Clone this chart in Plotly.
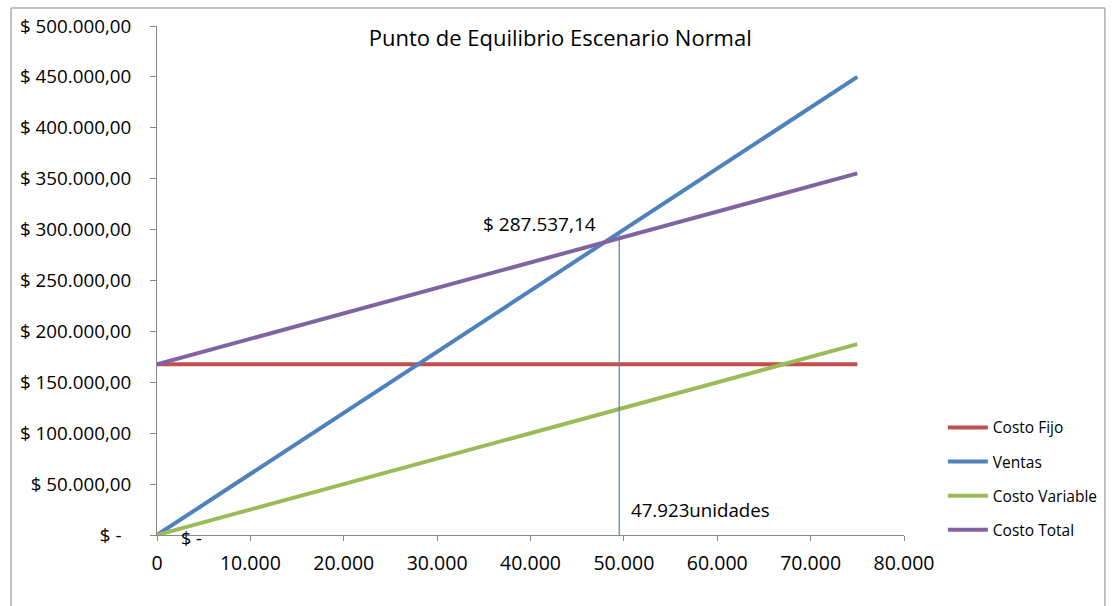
import plotly.graph_objects as go

units = [0, 75000]
costo_fijo = [167730, 167730]
ventas = [0, 450000]
costo_variable = [0, 187500]
costo_total = [167730, 355230]

be_x = [49500, 49500]
be_y = [0, 295000]
be_value_label = "$ 287.537,14"
be_units_label = "47.923unidades"

y_ticks = [0, 50000, 100000, 150000, 200000, 250000, 300000, 350000, 400000, 450000, 500000]
y_labels = ["$ -  ", "$ 50.000,00", "$ 100.000,00", "$ 150.000,00", "$ 200.000,00",
            "$ 250.000,00", "$ 300.000,00", "$ 350.000,00", "$ 400.000,00",
            "$ 450.000,00", "$ 500.000,00"]
x_ticks = [0, 10000, 20000, 30000, 40000, 50000, 60000, 70000, 80000]
x_labels = ["0", "10.000", "20.000", "30.000", "40.000", "50.000", "60.000", "70.000", "80.000"]

FONT = "Open Sans, sans-serif"

fig = go.Figure()
series = [
    ("Costo Fijo", costo_fijo, "#C0504D"),
    ("Ventas", ventas, "#4F81BD"),
    ("Costo Variable", costo_variable, "#9BBB59"),
    ("Costo Total", costo_total, "#8064A2"),
]
for i, (name, vals, col) in enumerate(series):
    fig.add_trace(go.Scatter(x=units, y=vals, mode="lines", name=name,
                             line=dict(color=col, width=4), legendgroup=f"g{i}"))

fig.add_trace(go.Scatter(x=be_x, y=be_y, mode="lines", showlegend=False,
                         line=dict(color="#4F81BD", width=1.2)))

fig.add_annotation(x=be_x[0], y=be_y[1], text=be_value_label, showarrow=False,
                   xanchor="right", yanchor="bottom", xshift=-21, yshift=-4,
                   font=dict(family=FONT, size=19, color="#000"))
fig.add_annotation(x=be_x[0], y=0, text=be_units_label, showarrow=False,
                   xanchor="left", yanchor="bottom", xshift=10, yshift=11,
                   font=dict(family=FONT, size=18.7, color="#000"))
fig.add_annotation(x=0, y=0, text="$ -", showarrow=False,
                   xanchor="left", yanchor="middle", xshift=22, yshift=-3,
                   font=dict(family=FONT, size=18, color="#000"))

fig.add_shape(type="rect", xref="paper", yref="paper", x0=-0.1954, x1=1.269,
              y0=-0.2, y1=1.0354, line=dict(color="#888", width=1), layer="below")

fig.update_layout(
    width=1116, height=606,
    margin=dict(l=157, r=212, t=26, b=71),
    paper_bgcolor="white", plot_bgcolor="white",
    font=dict(family=FONT, size=18, color="#000"),
    title=dict(text="Punto de Equilibrio Escenario Normal", x=0.502, xanchor="center",
               y=0.937, yanchor="middle", font=dict(family=FONT, size=22, color="#000")),
    xaxis=dict(range=[0, 80000], tickvals=x_ticks, ticktext=x_labels, showgrid=False,
               zeroline=False, showline=True, linecolor="#888", linewidth=1,
               ticks="outside", ticklen=5, tickcolor="#888", ticklabelstandoff=6,
               tickfont=dict(family=FONT, size=19.5)),
    yaxis=dict(range=[0, 500000], tickvals=y_ticks, ticktext=y_labels, showgrid=False,
               zeroline=False, showline=True, linecolor="#888", linewidth=1,
               ticks="outside", ticklen=6, tickcolor="#888", ticklabelstandoff=15,
               tickfont=dict(family=FONT, size=18.8)),
    legend=dict(x=1.052, y=0.244, xanchor="left", yanchor="top",
                font=dict(family=FONT, size=15.5), tracegroupgap=11,
                traceorder="grouped", itemwidth=40, bgcolor="rgba(0,0,0,0)"),
    showlegend=True,
)

fig.write_html("out.html")
